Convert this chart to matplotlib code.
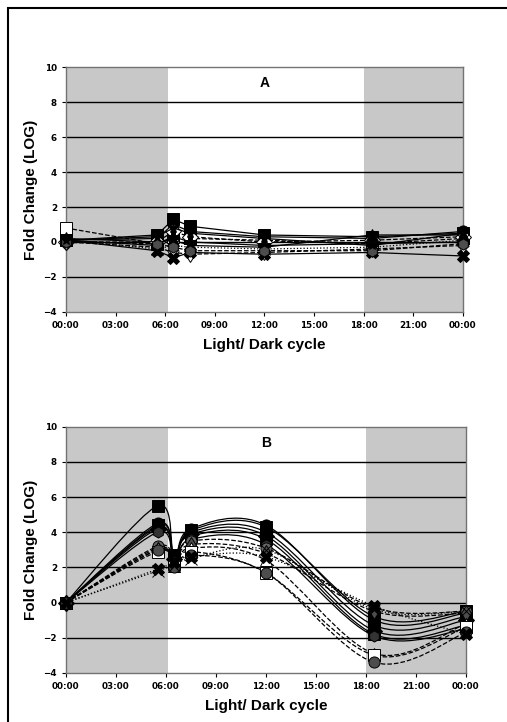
import matplotlib
matplotlib.use("Agg")
import matplotlib.pyplot as plt
import numpy as np
from matplotlib.path import Path
from matplotlib.patches import PathPatch, Rectangle

plt.rcParams['font.family'] = ['Liberation Sans', 'DejaVu Sans']
plt.rcParams['font.weight'] = 'bold'

# sampling times (hours)
hours = [0, 5.5, 6.5, 7.5, 12, 18.5, 24]
xticks = [0, 3, 6, 9, 12, 15, 18, 21, 24]
xticklabels = ["00:00", "03:00", "06:00", "09:00", "12:00", "15:00", "18:00", "21:00", "00:00"]
dark_periods = [(0, 6.15), (18, 24)]

# panel A: fold change per gene
a_vals = [
    [0.8, -0.1, 0.3, 0.2, 0.1, -0.1, 0.2],
    [0.1, 0.4, 1.3, 0.9, 0.4, 0.3, 0.5],
    [0.1, 0.2, 1.0, 0.6, 0.3, 0.2, 0.6],
    [0.0, 0.0, 0.6, 0.3, 0.0, 0.1, 0.3],
    [0.1, -0.2, 0.3, 0.0, -0.2, -0.1, 0.0],
    [0.1, -0.4, -0.2, -0.3, -0.4, -0.3, 0.1],
    [0.0, -0.3, -0.6, -0.7, -0.6, -0.4, -0.2],
    [0.1, -0.5, -0.9, -0.6, -0.7, -0.6, -0.8],
    [0.2, 0.0, 0.1, -0.2, -0.3, 0.4, 0.4],
    [0.0, -0.1, -0.3, -0.5, -0.5, -0.5, -0.1],
    [0.1, 0.3, 0.8, 0.5, 0.2, -0.2, 0.5],
]
a_styles = ['--', '-', '-', '--', '-', ':', '--', '-', '-', '--', '-']
a_markers = ['s', 's', 'o', 'D', 'P', 'x', 'd', 'X', '^', 'h', '*']
a_fill = ['white', 'black', 'black', 'white', 'black', 'black', 'white', 'black', 'black', '0.3', 'black']

# panel B: fold change per gene
b_vals = [
    [0, 5.5, 2.5, 4.1, 4.3, -0.8, -0.5],
    [0, 4.5, 2.6, 4.2, 4.4, -1.0, -0.6],
    [0, 4.3, 2.4, 4.0, 4.0, -1.3, -0.8],
    [0, 4.2, 2.5, 3.9, 3.8, -1.6, -1.0],
    [0, 4.4, 2.7, 3.8, 3.6, -1.8, -1.3],
    [0, 4.0, 2.3, 3.6, 3.3, -1.9, -1.5],
    [0, 3.2, 2.3, 3.5, 3.1, -0.3, -0.5],
    [0, 3.0, 2.2, 3.3, 2.8, -0.5, -0.6],
    [0, 3.1, 2.1, 3.1, 2.4, -2.9, -1.2],
    [0, 2.9, 2.2, 2.9, 1.7, -3.0, -1.4],
    [0, 3.0, 2.0, 2.7, 1.7, -3.4, -1.7],
    [0, 1.8, 2.1, 2.5, 3.0, -0.4, -0.5],
    [0, 1.9, 2.3, 2.6, 2.6, -0.2, -1.8],
]
b_styles = ['-', '-', '-', '-', '-', '-', '--', '--', '--', '--', '--', ':', ':']
b_markers = ['s', 'o', 'P', 'D', 's', 'h', 'o', 'd', '^', 's', 'o', 'x', 'X']
b_fill = ['black', 'black', 'black', 'black', 'black', '0.2', '0.4', '0.3', 'white', 'white', '0.3', 'black', 'black']


def smooth_path(x, y):
    # Excel-like smoothed line: cubic Bezier through each point
    x = np.asarray(x, float)
    y = np.asarray(y, float)
    n = len(x)
    verts = [(x[0], y[0])]
    codes = [Path.MOVETO]
    for i in range(n - 1):
        i0 = max(i - 1, 0)
        i3 = min(i + 2, n - 1)
        c1 = (x[i] + (x[i + 1] - x[i0]) / 6, y[i] + (y[i + 1] - y[i0]) / 6)
        c2 = (x[i + 1] - (x[i3] - x[i]) / 6, y[i + 1] - (y[i3] - y[i]) / 6)
        verts += [c1, c2, (x[i + 1], y[i + 1])]
        codes += [Path.CURVE4] * 3
    return Path(verts, codes)


def setup(ax, letter):
    ax.set_xlim(0, 24)
    ax.set_ylim(-4, 10)
    for s, e in dark_periods:
        ax.axvspan(s, e, color='#c8c8c8', lw=0, zorder=0)
    for yv in [-2, 0, 2, 4, 6, 8]:
        ax.axhline(yv, color='black', lw=1.0, zorder=1)
    ax.set_xticks(xticks)
    ax.set_xticklabels(xticklabels)
    ax.set_yticks(range(-4, 11, 2))
    ax.tick_params(length=3, width=0.8, direction='out')
    for lab in ax.get_xticklabels() + ax.get_yticklabels():
        lab.set_family('DejaVu Sans')
        lab.set_fontsize(6.3)
        lab.set_fontweight('bold')
    for sp in ax.spines.values():
        sp.set_color('0.45')
        sp.set_linewidth(1.0)
    ax.set_xlabel("Light/ Dark cycle", fontsize=11, fontweight='bold', labelpad=6)
    ax.set_ylabel("Fold Change (LOG)", fontsize=11, fontweight='bold', labelpad=4)
    ax.text(12, 9.1, letter, ha='center', va='center', fontsize=10, fontweight='bold')


fig = plt.figure(figsize=(5.07, 7.22), dpi=100)
fig.patches.append(Rectangle((8 / 507, -0.01), 1.1, 1 - 8 / 722 + 0.01, transform=fig.transFigure,
                             fill=False, ec='black', lw=1.5))

axA = fig.add_axes([0.130, 0.568, 0.783, 0.339])
setup(axA, "A")
for vals, ls, mk, fc in zip(a_vals, a_styles, a_markers, a_fill):
    axA.plot(hours, vals, ls=ls, color='black', lw=0.9, marker=mk, ms=8,
             mfc=fc, mec='black', mew=0.7, zorder=3, clip_on=False)

axB = fig.add_axes([0.130, 0.068, 0.789, 0.341])
setup(axB, "B")
for vals, ls, mk, fc in zip(b_vals, b_styles, b_markers, b_fill):
    patch = PathPatch(smooth_path(hours, vals), fill=False, ec='black', lw=0.9, ls=ls, zorder=2)
    axB.add_patch(patch)
    axB.plot(hours, vals, ls='none', marker=mk, ms=8, mfc=fc, mec='black', mew=0.7,
             zorder=3, clip_on=False)

fig.savefig("out.png", dpi=100)
